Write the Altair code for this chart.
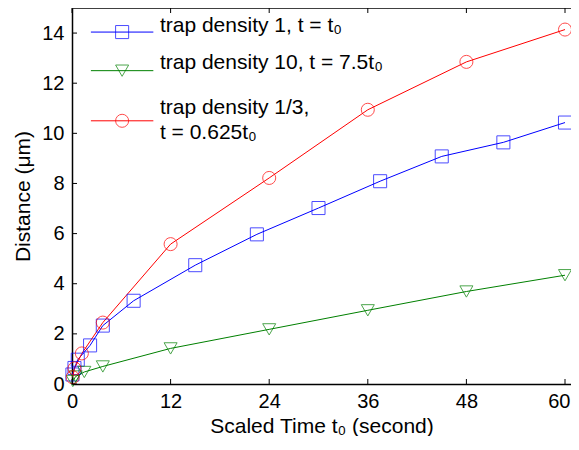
import altair as alt
import pandas as pd

# ---- data ----
series_names = ["trap density 1, t = t\u2080",
                "trap density 10, t = 7.5t\u2080",
                "trap density 1/3,\nt = 0.625t\u2080"]
series_keys = ["d1", "d10", "d13"]
series_colors = ["#0000ff", "#008000", "#ff0000"]
series_shapes = ["square", "triangle-down", "circle"]

blue_x = [0.05, 0.3, 0.7, 2.2, 3.75, 7.5, 15, 22.5, 30, 37.5, 45, 52.5, 60]
blue_y = [0.38, 0.64, 0.97, 1.54, 2.33, 3.32, 4.74, 5.97, 7.02, 8.09, 9.08, 9.64, 10.43]
green_x = [0.1, 0.45, 1.5, 3.75, 12, 24, 36, 48, 60]
green_y = [0.12, 0.3, 0.48, 0.7, 1.42, 2.18, 2.94, 3.69, 4.34]
red_x = [0.08, 0.3, 1.2, 3.75, 12, 24, 36, 48, 60]
red_y = [0.27, 0.62, 1.22, 2.45, 5.58, 8.22, 10.94, 12.85, 14.14]

x_ticks = [0, 12, 24, 36, 48, 60]
y_ticks = [0, 2, 4, 6, 8, 10, 12, 14]
x_domain = [0, 60.73]
y_domain = [0, 15]

# legend placement (data units)
leg_x1, leg_xm, leg_x2, leg_xt = 2.3, 6.1, 9.9, 10.7
leg_line_y = [14.04, 12.5, 10.5]
leg_text_y = [14.3, 12.8, 11.0]

W, H = 499, 376
FONT = "Liberation Sans"
FS_TICK = 20
FS = 21

rows = []
for key, xs_, ys_ in zip(series_keys, [blue_x, green_x, red_x], [blue_y, green_y, red_y]):
    for i, (a, b) in enumerate(zip(xs_, ys_)):
        rows.append({"series": key, "x": a, "y": b, "order": i})
df = pd.DataFrame(rows)

leg = pd.DataFrame({
    "series": series_keys,
    "label": series_names,
    "x1": [leg_x1] * 3, "xm": [leg_xm] * 3, "x2": [leg_x2] * 3, "xt": [leg_xt] * 3,
    "ly": leg_line_y, "ty": leg_text_y,
})

xs = alt.Scale(domain=x_domain, nice=False, zero=False)
ys = alt.Scale(domain=y_domain, nice=False, zero=False)
cscale = alt.Scale(domain=series_keys, range=series_colors)
sscale = alt.Scale(domain=series_keys, range=series_shapes)

last_x = x_ticks[-1]
x_axis = alt.Axis(
    values=x_ticks, title="Scaled Time t\u2080 (second)", titlePadding=4, labelPadding=7,
    labelAlign={"condition": {"test": f"datum.value >= {last_x}", "value": "right"},
                "value": "center"},
    labelOffset={"condition": {"test": f"datum.value >= {last_x}", "value": 5},
                 "value": 0},
)
y_axis = alt.Axis(values=y_ticks, title="Distance (\u03bcm)", titlePadding=8,
                  labelPadding=8)

base = alt.Chart(df)
lines = base.mark_line(strokeWidth=1).encode(
    x=alt.X("x:Q", scale=xs, axis=x_axis),
    y=alt.Y("y:Q", scale=ys, axis=y_axis),
    color=alt.Color("series:N", scale=cscale, legend=None),
    detail="series:N",
    order="order:Q",
)
points = base.mark_point(filled=False, strokeWidth=1, size=170).encode(
    x=alt.X("x:Q", scale=xs),
    y=alt.Y("y:Q", scale=ys),
    color=alt.Color("series:N", scale=cscale, legend=None),
    shape=alt.Shape("series:N", scale=sscale, legend=None),
)

# inside ticks and top border
xt = alt.Chart(pd.DataFrame({"t": x_ticks}))
bottom_ticks = xt.mark_rule(color="black", strokeWidth=1).encode(
    x=alt.X("t:Q", scale=xs), y=alt.value(H), y2=alt.value(H - 5))
top_ticks = xt.mark_rule(color="black", strokeWidth=1).encode(
    x=alt.X("t:Q", scale=xs), y=alt.value(0), y2=alt.value(5))
yt = alt.Chart(pd.DataFrame({"t": y_ticks}))
left_ticks = yt.mark_rule(color="black", strokeWidth=1).encode(
    y=alt.Y("t:Q", scale=ys), x=alt.value(0), x2=alt.value(5))
top_border = alt.Chart(pd.DataFrame({"a": [0]})).mark_rule(color="black", strokeWidth=1.5).encode(
    x=alt.value(0), x2=alt.value(W), y=alt.value(0))

# legend
lb = alt.Chart(leg)
leg_lines = lb.mark_rule(strokeWidth=1).encode(
    x=alt.X("x1:Q", scale=xs), x2="x2:Q",
    y=alt.Y("ly:Q", scale=ys),
    color=alt.Color("series:N", scale=cscale, legend=None))
leg_pts = lb.mark_point(filled=False, strokeWidth=1, size=170).encode(
    x=alt.X("xm:Q", scale=xs),
    y=alt.Y("ly:Q", scale=ys),
    color=alt.Color("series:N", scale=cscale, legend=None),
    shape=alt.Shape("series:N", scale=sscale, legend=None))
leg_text = lb.mark_text(align="left", baseline="middle", fontSize=FS, font=FONT,
                        color="black", lineBreak="\n", lineHeight=25).encode(
    x=alt.X("xt:Q", scale=xs),
    y=alt.Y("ty:Q", scale=ys),
    text="label:N")

chart = alt.layer(
    lines, points, bottom_ticks, top_ticks, left_ticks, top_border,
    leg_lines, leg_pts, leg_text
).properties(
    width=W, height=H,
    autosize=alt.AutoSizeParams(type="none"),
    padding={"left": 64, "top": 0, "right": 0, "bottom": 52},
    background="white",
).configure_view(stroke=None).configure_axis(
    tickSize=0, grid=False, domainColor="black", domainWidth=1.5,
    labelFont=FONT, labelFontSize=FS_TICK, labelColor="black",
    titleFont=FONT, titleFontSize=FS, titleFontWeight="normal", titleColor="black",
)

chart.save("out.html", embed_options={"renderer": "svg", "actions": False})
